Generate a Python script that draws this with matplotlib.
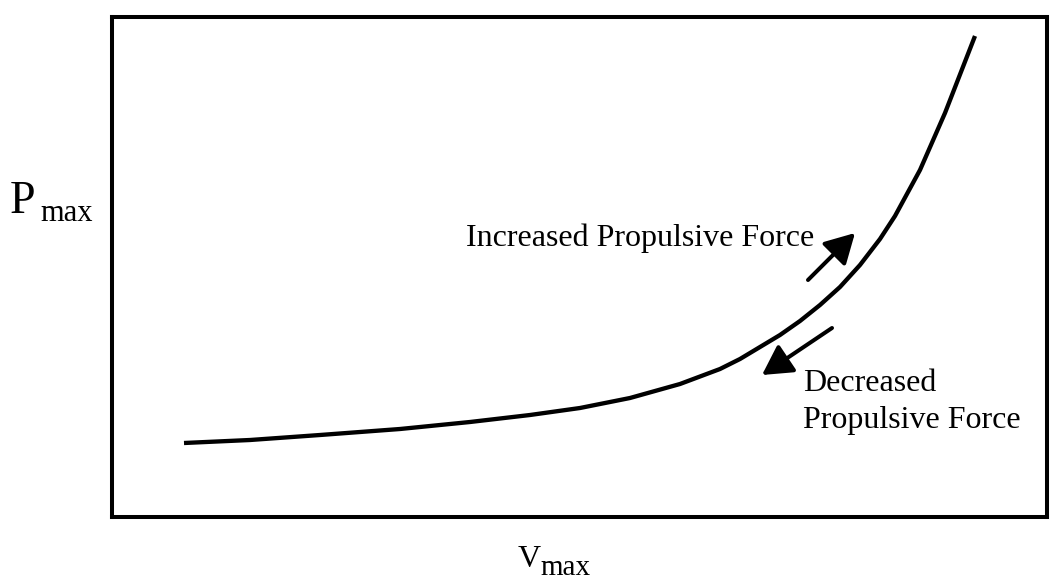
import matplotlib
matplotlib.use("Agg")
import matplotlib.pyplot as plt

W, H = 1060, 581
# axes: 112..1047 px wide (0-100), 517..17 px tall (0-100)
def px_to_x(px):
    return (px - 112) / 9.35
def px_to_y(py):
    return (517 - py) / 5.0

# Curve (pixel positions of the reference)
curve_px = [184, 250, 320, 400, 470, 530, 580, 630, 680, 720, 740, 760, 780, 800, 820, 840, 860, 880, 895, 920, 945, 975]
curve_py = [443, 440, 435, 429, 422, 415, 408, 398, 384, 369, 359, 347, 335, 321, 305, 287, 265, 239, 216, 170, 113, 36]
v_max = [px_to_x(p) for p in curve_px]
p_max = [px_to_y(p) for p in curve_py]

# Arrows (tail, tip)
inc_tail, inc_tip = (px_to_x(808), px_to_y(280)), (px_to_x(855), px_to_y(233))
dec_tail, dec_tip = (px_to_x(832), px_to_y(328)), (px_to_x(762), px_to_y(375))

fig = plt.figure(figsize=(W / 100, H / 100), dpi=100)
ax = fig.add_axes([112 / W, (H - 517) / H, 935 / W, 500 / H])
ax.set_xlim(0, 100)
ax.set_ylim(0, 100)
ax.set_xticks([])
ax.set_yticks([])
for s in ax.spines.values():
    s.set_linewidth(2.9)
    s.set_color("black")

ax.plot(v_max, p_max, color="black", lw=3.1, solid_capstyle="butt", solid_joinstyle="round")

for tail, tip in [(inc_tail, inc_tip), (dec_tail, dec_tip)]:
    ax.annotate("", xy=tip, xytext=tail,
                arrowprops=dict(arrowstyle="-|>,head_length=0.9,head_width=0.5",
                                mutation_scale=20, lw=2.9, color="black",
                                shrinkA=0, shrinkB=0))

serif = "Liberation Serif"

def ftext(x, y, s, size, **kw):
    fig.text(x / W, 1 - y / H, s, fontsize=size, family=serif, va="baseline", ha="left", **kw)

ftext(10, 213, "P", 33)
ftext(40, 221, "max", 22)
ftext(518, 567, "V", 23)
ftext(540, 575, "max", 21)
ftext(466, 246, "Increased Propulsive Force", 23)
ftext(803, 391, "Decreased", 23)
ftext(803, 428, "Propulsive Force", 23)

fig.savefig("out.png", dpi=100, facecolor="white")
